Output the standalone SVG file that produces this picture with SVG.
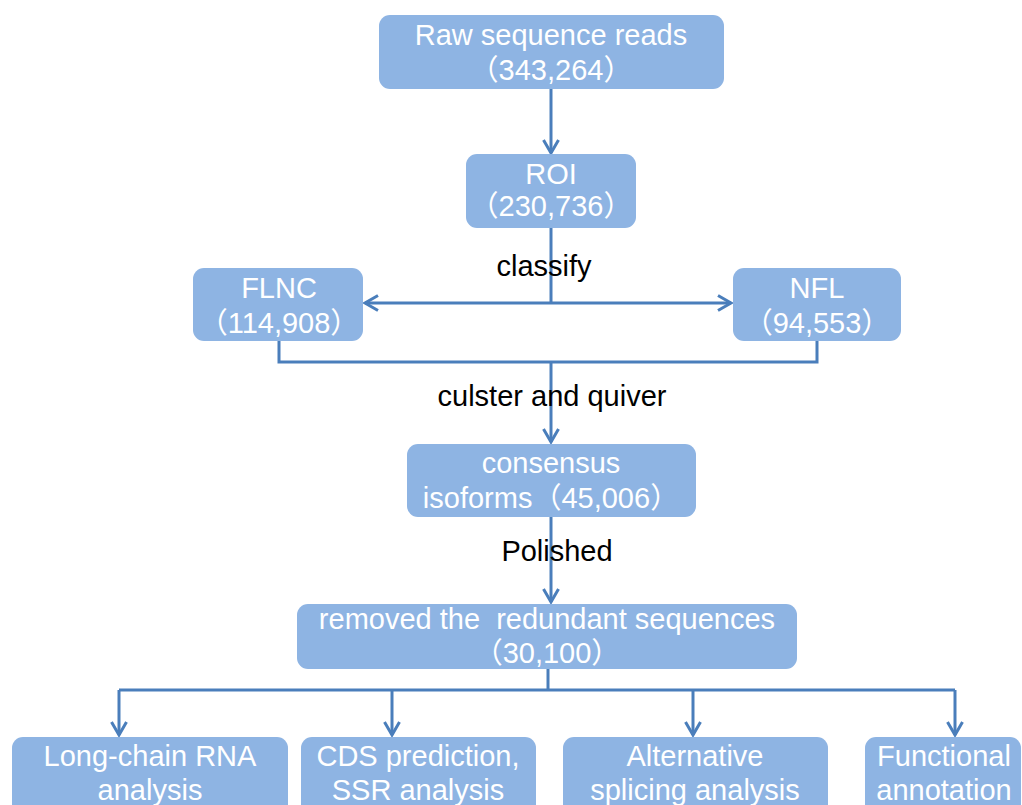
<svg xmlns="http://www.w3.org/2000/svg" width="1022" height="805" viewBox="0 0 1022 805">
<defs>
<style>
.box{fill:#8EB4E3;stroke:none}
.t{font-family:"Liberation Sans","Noto Sans CJK SC",sans-serif;font-size:29px;fill:#FFFFFF;text-anchor:middle;white-space:pre}
.lbl{font-family:"Liberation Sans","Noto Sans CJK SC",sans-serif;font-size:29px;fill:#000000;text-anchor:middle}
.c{fill:none;stroke:#4A7EBB;stroke-width:3}
</style>
<marker id="ah" markerWidth="18" markerHeight="20" refX="14" refY="9" orient="auto" markerUnits="userSpaceOnUse">
<path d="M1,1.5 L14,9 L1,16.5" fill="none" stroke="#4A7EBB" stroke-width="3"/>
</marker>
</defs>
<rect width="1022" height="805" fill="#FFFFFF"/>
<g id="connectors">
<line class="c" x1="551" y1="89" x2="551" y2="153" marker-end="url(#ah)"/>
<line class="c" x1="551" y1="228" x2="551" y2="303"/>
<line class="c" x1="551" y1="303" x2="365" y2="303" marker-end="url(#ah)"/>
<line class="c" x1="551" y1="303" x2="731" y2="303" marker-end="url(#ah)"/>
<polyline class="c" points="279,341 279,362 817,362 817,341"/>
<line class="c" x1="551" y1="362" x2="551" y2="442" marker-end="url(#ah)"/>
<line class="c" x1="551" y1="517" x2="551" y2="602" marker-end="url(#ah)"/>
<line class="c" x1="548" y1="669" x2="548" y2="690"/>
<line class="c" x1="119" y1="690" x2="955" y2="690"/>
<line class="c" x1="119" y1="690" x2="119" y2="735" marker-end="url(#ah)"/>
<line class="c" x1="392" y1="690" x2="392" y2="735" marker-end="url(#ah)"/>
<line class="c" x1="693" y1="690" x2="693" y2="735" marker-end="url(#ah)"/>
<line class="c" x1="955" y1="690" x2="955" y2="735" marker-end="url(#ah)"/>
</g>
<g id="labels">
<text class="lbl" x="544" y="276">classify</text>
<text class="lbl" x="552" y="406">culster and quiver</text>
<text class="lbl" x="557" y="561">Polished</text>
</g>
<g id="raw">
<rect class="box" x="379" y="15" width="345" height="74" rx="11"/>
<text class="t" x="551" y="45">Raw sequence reads</text>
<text class="t" x="551" y="80">（343,264）</text>
</g>
<g id="roi">
<rect class="box" x="466" y="154" width="170" height="74" rx="11"/>
<text class="t" x="551" y="184">ROI</text>
<text class="t" x="551" y="216">（230,736）</text>
</g>
<g id="flnc">
<rect class="box" x="193" y="268" width="170" height="73" rx="11"/>
<text class="t" x="279" y="298">FLNC</text>
<text class="t" x="279" y="333">（114,908）</text>
</g>
<g id="nfl">
<rect class="box" x="733" y="268" width="168" height="73" rx="11"/>
<text class="t" x="817" y="298">NFL</text>
<text class="t" x="817" y="333">（94,553）</text>
</g>
<g id="consensus">
<rect class="box" x="407" y="444" width="289" height="73" rx="11"/>
<text class="t" x="551" y="473">consensus</text>
<text class="t" x="551" y="508">isoforms（45,006）</text>
</g>
<g id="removed">
<rect class="box" x="297" y="604" width="500" height="65" rx="11"/>
<text class="t" x="547" y="629" xml:space="preserve">removed the  redundant sequences</text>
<text class="t" x="547" y="663">（30,100）</text>
</g>
<g id="longchain">
<rect class="box" x="12" y="737" width="276" height="90" rx="11"/>
<text class="t" x="150" y="766">Long-chain RNA</text>
<text class="t" x="150" y="800">analysis</text>
</g>
<g id="cds">
<rect class="box" x="301" y="737" width="235" height="90" rx="11"/>
<text class="t" x="418" y="766">CDS prediction,</text>
<text class="t" x="418" y="800">SSR analysis</text>
</g>
<g id="splicing">
<rect class="box" x="563" y="737" width="265" height="90" rx="11"/>
<text class="t" x="695" y="766">Alternative</text>
<text class="t" x="695" y="800">splicing analysis</text>
</g>
<g id="functional">
<rect class="box" x="865" y="737" width="156" height="90" rx="11"/>
<text class="t" x="944" y="766">Functional</text>
<text class="t" x="944" y="800">annotation</text>
</g>
</svg>
